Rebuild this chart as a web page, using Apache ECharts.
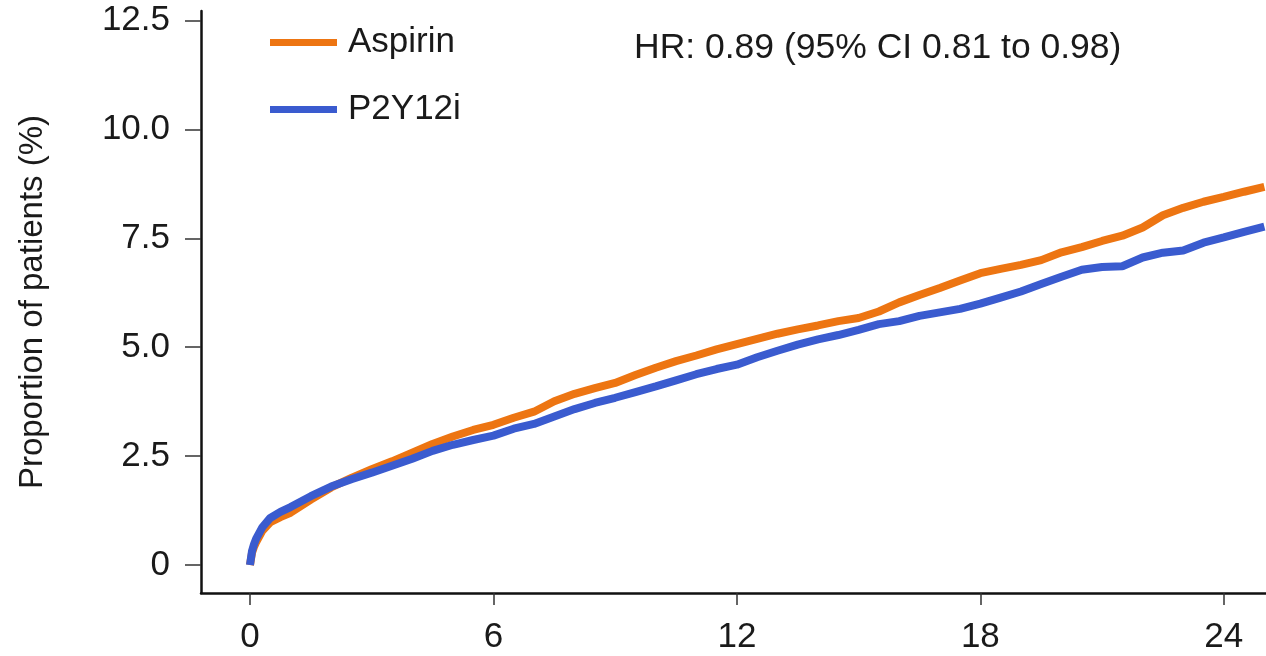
<!DOCTYPE html>
<html>
<head>
<meta charset="utf-8">
<script src="https://cdn.jsdelivr.net/npm/echarts@6/dist/echarts.min.js"></script>
<style>
  html, body { margin: 0; padding: 0; background: #fff; }
  #km_chart { width: 1266px; height: 656px; }
</style>
</head>
<body>
<div id="km_chart"></div>
<script>
// months since start
var months = [0, 0.05, 0.1, 0.15, 0.3, 0.5, 0.75, 1, 1.5, 2, 2.5, 3, 3.5, 4, 4.5, 5, 5.5, 6, 6.5, 7, 7.5, 8, 8.5, 9, 9.5, 10, 10.5, 11, 11.5, 12, 12.5, 13, 13.5, 14, 14.5, 15, 15.5, 16, 16.5, 17, 17.5, 18, 18.5, 19, 19.5, 20, 20.5, 21, 21.5, 22, 22.5, 23, 23.5, 24, 24.5, 25];
// cumulative proportion (%)
var aspirin = [0, 0.28, 0.42, 0.52, 0.78, 0.98, 1.1, 1.2, 1.5, 1.78, 2.0, 2.2, 2.38, 2.58, 2.78, 2.95, 3.1, 3.22, 3.38, 3.52, 3.76, 3.93, 4.06, 4.18, 4.36, 4.53, 4.68, 4.81, 4.95, 5.07, 5.19, 5.31, 5.41, 5.5, 5.6, 5.67, 5.82, 6.03, 6.2, 6.36, 6.53, 6.7, 6.8, 6.89, 7.0, 7.18, 7.3, 7.44, 7.56, 7.75, 8.03, 8.2, 8.34, 8.45, 8.57, 8.68];
var p2y12i = [0, 0.32, 0.48, 0.6, 0.86, 1.08, 1.22, 1.33, 1.58, 1.8, 1.97, 2.12, 2.28, 2.44, 2.62, 2.76, 2.87, 2.97, 3.13, 3.24, 3.41, 3.58, 3.72, 3.84, 3.97, 4.1, 4.24, 4.38, 4.5, 4.6, 4.77, 4.92, 5.06, 5.18, 5.28, 5.4, 5.53, 5.6, 5.72, 5.8, 5.88, 6.0, 6.14, 6.28, 6.45, 6.62, 6.78, 6.84, 6.86, 7.06, 7.17, 7.22, 7.4, 7.52, 7.65, 7.77];

var xTicks = [0, 6, 12, 18, 24];
var yTicks = [0, 2.5, 5, 7.5, 10, 12.5];
var seriesNames = ['Aspirin', 'P2Y12i'];
var hrText = 'HR: 0.89 (95% CI 0.81 to 0.98)';

function pairs(xs, ys) {
	return xs.map(function (x, i) { return [x, ys[i]]; });
}

var FONT = "'Liberation Sans', Arial, sans-serif";
var Color = ['#ED7512', '#3A5BCF'];

var chart = echarts.init(document.getElementById('km_chart'));

var option = {
	backgroundColor: '#fff',
	animation: false,
	color: Color,
	grid: {
		left: 201,
		right: 0,
		top: 11,
		bottom: 63
	},
	legend: {
		orient: 'vertical',
		left: 265,
		top: 20,
		icon: 'rect',
		itemWidth: 67,
		itemHeight: 7,
		itemGap: 32,
		data: seriesNames,
		textStyle: {
			fontFamily: FONT,
			fontSize: 35,
			lineHeight: 34,
			color: '#1a1a1a',
			padding: [0, 0, 0, 6]
		}
	},
	graphic: [{
		type: 'text',
		left: 634,
		top: 30,
		style: {
			text: hrText,
			fontFamily: FONT,
			fontSize: 35.5,
			fill: '#1a1a1a'
		}
	}],
	xAxis: {
		type: 'value',
		min: -1.207,
		max: 25.04,
		splitLine: { show: false },
		axisLine: {
			show: true,
			onZero: false,
			lineStyle: { color: '#111', width: 2.5 }
		},
		axisTick: {
			show: true,
			customValues: xTicks,
			length: 12,
			lineStyle: { color: '#333', width: 1.5 }
		},
		axisLabel: {
			customValues: xTicks,
			margin: 27,
			fontFamily: FONT,
			fontSize: 35,
			color: '#1a1a1a'
		}
	},
	yAxis: {
		type: 'value',
		min: -0.643,
		max: 12.72,
		name: 'Proportion of patients (%)',
		nameLocation: 'middle',
		nameGap: 152,
		nameTextStyle: {
			fontFamily: FONT,
			fontSize: 33,
			color: '#1a1a1a'
		},
		splitLine: { show: false },
		axisLine: {
			show: true,
			onZero: false,
			lineStyle: { color: '#111', width: 2.5 }
		},
		axisTick: {
			show: true,
			customValues: yTicks,
			length: 16,
			lineStyle: { color: '#333', width: 1.5 }
		},
		axisLabel: {
			customValues: yTicks,
			margin: 31,
			fontFamily: FONT,
			fontSize: 35,
			color: '#1a1a1a',
			formatter: function (v) { return v === 0 ? '0' : v.toFixed(1); }
		}
	},
	series: [{
		name: seriesNames[0],
		type: 'line',
		showSymbol: false,
		lineStyle: { width: 8, color: Color[0] },
		data: pairs(months, aspirin)
	}, {
		name: seriesNames[1],
		type: 'line',
		showSymbol: false,
		lineStyle: { width: 8, color: Color[1] },
		data: pairs(months, p2y12i)
	}]
};
chart.setOption(option);
</script>
</body>
</html>
